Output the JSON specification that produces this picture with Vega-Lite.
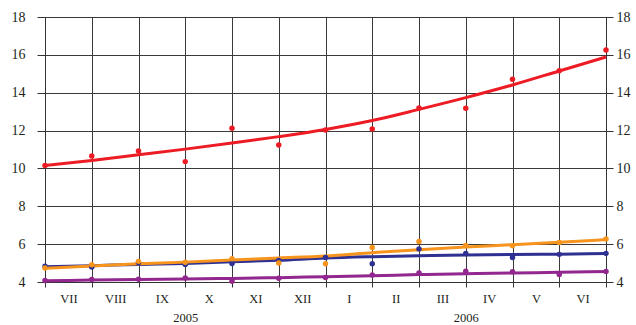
{
  "$schema": "https://vega.github.io/schema/vega-lite/v6.json",
  "width": 561,
  "height": 265,
  "autosize": {"type": "none"},
  "padding": {"left": 45, "top": 17, "right": 30, "bottom": 43},
  "background": "white",
  "config": {
    "view": {"stroke": null},
    "font": "Liberation Serif, Times New Roman, serif",
    "axis": {"labelFont": "Liberation Serif, Times New Roman, serif", "labelColor": "#231f20", "domainColor": "#333333", "tickColor": "#333333", "gridColor": "#3a3a3a", "gridWidth": 1, "domainWidth": 1, "tickWidth": 1}
  },
  "datasets": {
    "pts": [
      {"i": 0, "s": "blue", "v": 4.83}, {"i": 1, "s": "blue", "v": 4.79}, {"i": 2, "s": "blue", "v": 5.03}, {"i": 3, "s": "blue", "v": 4.93}, {"i": 4, "s": "blue", "v": 4.98}, {"i": 5, "s": "blue", "v": 5.13}, {"i": 6, "s": "blue", "v": 5.29}, {"i": 7, "s": "blue", "v": 4.97}, {"i": 8, "s": "blue", "v": 5.75}, {"i": 9, "s": "blue", "v": 5.5}, {"i": 10, "s": "blue", "v": 5.29}, {"i": 11, "s": "blue", "v": 5.46}, {"i": 12, "s": "blue", "v": 5.51},
      {"i": 0, "s": "orange", "v": 4.74}, {"i": 1, "s": "orange", "v": 4.91}, {"i": 2, "s": "orange", "v": 5.09}, {"i": 3, "s": "orange", "v": 5.04}, {"i": 4, "s": "orange", "v": 5.23}, {"i": 5, "s": "orange", "v": 5.0}, {"i": 6, "s": "orange", "v": 4.97}, {"i": 7, "s": "orange", "v": 5.82}, {"i": 8, "s": "orange", "v": 6.14}, {"i": 9, "s": "orange", "v": 5.93}, {"i": 10, "s": "orange", "v": 5.91}, {"i": 11, "s": "orange", "v": 6.09}, {"i": 12, "s": "orange", "v": 6.27},
      {"i": 0, "s": "purple", "v": 4.08}, {"i": 1, "s": "purple", "v": 4.13}, {"i": 2, "s": "purple", "v": 4.15}, {"i": 3, "s": "purple", "v": 4.21}, {"i": 4, "s": "purple", "v": 4.04}, {"i": 5, "s": "purple", "v": 4.2}, {"i": 6, "s": "purple", "v": 4.24}, {"i": 7, "s": "purple", "v": 4.37}, {"i": 8, "s": "purple", "v": 4.47}, {"i": 9, "s": "purple", "v": 4.57}, {"i": 10, "s": "purple", "v": 4.54}, {"i": 11, "s": "purple", "v": 4.4}, {"i": 12, "s": "purple", "v": 4.56},
      {"i": 0, "s": "red", "v": 10.15}, {"i": 1, "s": "red", "v": 10.66}, {"i": 2, "s": "red", "v": 10.92}, {"i": 3, "s": "red", "v": 10.36}, {"i": 4, "s": "red", "v": 12.12}, {"i": 5, "s": "red", "v": 11.24}, {"i": 6, "s": "red", "v": 12.03}, {"i": 7, "s": "red", "v": 12.08}, {"i": 8, "s": "red", "v": 13.19}, {"i": 9, "s": "red", "v": 13.18}, {"i": 10, "s": "red", "v": 14.71}, {"i": 11, "s": "red", "v": 15.16}, {"i": 12, "s": "red", "v": 16.26}
    ],
    "trend": [
      {"i": 0, "s": "blue", "v": 4.8}, {"i": 1, "s": "blue", "v": 4.86}, {"i": 2, "s": "blue", "v": 4.93}, {"i": 3, "s": "blue", "v": 4.98}, {"i": 4, "s": "blue", "v": 5.07}, {"i": 5, "s": "blue", "v": 5.15}, {"i": 6, "s": "blue", "v": 5.27}, {"i": 7, "s": "blue", "v": 5.34}, {"i": 8, "s": "blue", "v": 5.39}, {"i": 9, "s": "blue", "v": 5.43}, {"i": 10, "s": "blue", "v": 5.45}, {"i": 11, "s": "blue", "v": 5.47}, {"i": 12, "s": "blue", "v": 5.5},
      {"i": 0, "s": "orange", "v": 4.72}, {"i": 1, "s": "orange", "v": 4.85}, {"i": 2, "s": "orange", "v": 4.96}, {"i": 3, "s": "orange", "v": 5.05}, {"i": 4, "s": "orange", "v": 5.16}, {"i": 5, "s": "orange", "v": 5.27}, {"i": 6, "s": "orange", "v": 5.38}, {"i": 7, "s": "orange", "v": 5.55}, {"i": 8, "s": "orange", "v": 5.71}, {"i": 9, "s": "orange", "v": 5.85}, {"i": 10, "s": "orange", "v": 5.97}, {"i": 11, "s": "orange", "v": 6.1}, {"i": 12, "s": "orange", "v": 6.24},
      {"i": 0, "s": "purple", "v": 4.07}, {"i": 1, "s": "purple", "v": 4.1}, {"i": 2, "s": "purple", "v": 4.13}, {"i": 3, "s": "purple", "v": 4.16}, {"i": 4, "s": "purple", "v": 4.19}, {"i": 5, "s": "purple", "v": 4.23}, {"i": 6, "s": "purple", "v": 4.28}, {"i": 7, "s": "purple", "v": 4.33}, {"i": 8, "s": "purple", "v": 4.39}, {"i": 9, "s": "purple", "v": 4.44}, {"i": 10, "s": "purple", "v": 4.48}, {"i": 11, "s": "purple", "v": 4.51}, {"i": 12, "s": "purple", "v": 4.55},
      {"i": 0, "s": "red", "v": 10.15}, {"i": 1, "s": "red", "v": 10.42}, {"i": 2, "s": "red", "v": 10.72}, {"i": 3, "s": "red", "v": 11.02}, {"i": 4, "s": "red", "v": 11.34}, {"i": 5, "s": "red", "v": 11.68}, {"i": 6, "s": "red", "v": 12.06}, {"i": 7, "s": "red", "v": 12.53}, {"i": 8, "s": "red", "v": 13.12}, {"i": 9, "s": "red", "v": 13.74}, {"i": 10, "s": "red", "v": 14.41}, {"i": 11, "s": "red", "v": 15.15}, {"i": 12, "s": "red", "v": 15.89}
    ]
  },
  "layer": [
    {
      "data": {"name": "trend"},
      "mark": {"type": "line", "strokeWidth": 3, "interpolate": "monotone"},
      "encoding": {
        "x": {
          "field": "i", "type": "quantitative",
          "scale": {"domain": [0, 12], "nice": false, "zero": false},
          "axis": {
            "title": null, "orient": "bottom",
            "values": [0, 1, 2, 3, 4, 5, 6, 7, 8, 9, 10, 11, 12],
            "labelExpr": "datum.value == 0 ? 'VII' : datum.value == 1 ? 'VIII' : datum.value == 2 ? 'IX' : datum.value == 3 ? 'X' : datum.value == 4 ? 'XI' : datum.value == 5 ? 'XII' : datum.value == 6 ? 'I' : datum.value == 7 ? 'II' : datum.value == 8 ? 'III' : datum.value == 9 ? 'IV' : datum.value == 10 ? 'V' : datum.value == 11 ? 'VI' : ''",
            "labelFont": "Liberation Serif, Times New Roman, serif",
            "labelFontSize": 12.5,
            "labelOffset": 23.4,
            "labelPadding": 5,
            "labelOverlap": false,
            "labelBound": false,
            "labelFlush": false,
            "labelAlign": "center",
            "labelBaseline": "top",
            "tickSize": 5,
            "grid": true,
            "domain": true
          }
        },
        "y": {
          "field": "v", "type": "quantitative",
          "scale": {"domain": [4, 18], "nice": false, "zero": false},
          "axis": {
            "title": null, "orient": "left",
            "values": [4, 6, 8, 10, 12, 14, 16, 18],
            "labelFont": "Liberation Serif, Times New Roman, serif",
            "labelFontSize": 14, "tickSize": 8, "labelPadding": 12,
            "grid": true, "domain": true
          }
        },
        "color": {
          "field": "s", "type": "nominal",
          "scale": {"domain": ["blue", "orange", "purple", "red"], "range": ["#2e3192", "#f7941d", "#92278f", "#ed1c24"]},
          "legend": null
        }
      }
    },
    {
      "data": {"name": "pts"},
      "mark": {"type": "circle", "size": 30, "opacity": 1},
      "encoding": {
        "x": {
          "field": "i", "type": "quantitative",
          "axis": {
            "title": null, "orient": "bottom",
            "values": [3, 9],
            "labelExpr": "datum.value == 3 ? '2005' : '2006'",
            "labelFont": "Liberation Serif, Times New Roman, serif",
            "labelFontSize": 12.5,
            "labelPadding": 29,
            "labelBaseline": "top",
            "labelOverlap": false,
            "ticks": false, "tickSize": 0,
            "grid": false, "domain": false
          }
        },
        "y": {
          "field": "v", "type": "quantitative",
          "axis": {
            "title": null, "orient": "right",
            "values": [4, 6, 8, 10, 12, 14, 16, 18],
            "labelFont": "Liberation Serif, Times New Roman, serif",
            "labelFontSize": 14, "tickSize": 7, "labelPadding": 3,
            "grid": false, "domain": true
          }
        },
        "color": {"field": "s", "type": "nominal", "legend": null}
      }
    }
  ],
  "resolve": {"axis": {"x": "independent", "y": "independent"}}
}
